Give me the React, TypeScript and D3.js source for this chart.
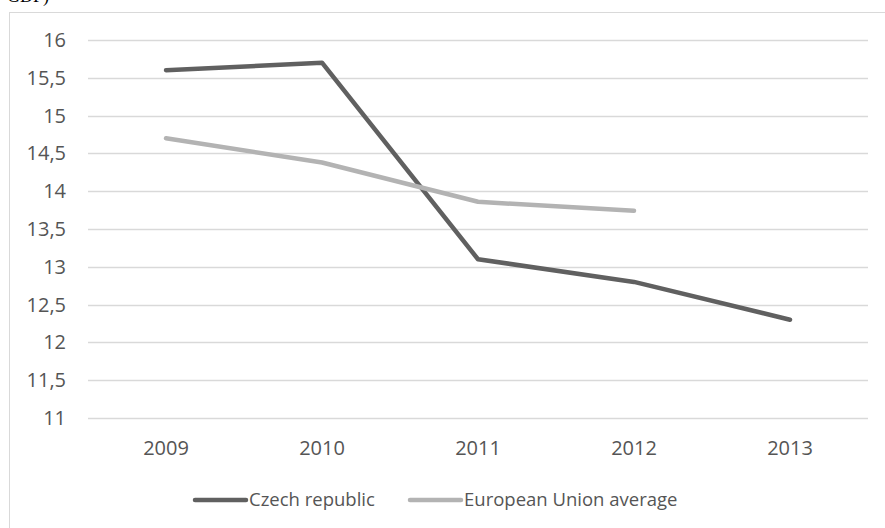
import React, { useRef, useEffect } from "react";
import * as d3 from "d3";

const years = ["2009", "2010", "2011", "2012", "2013"];
const czech = [15.6, 15.7, 13.1, 12.8, 12.3];
const euAverage = [14.7, 14.38, 13.86, 13.74];
const yTicks = [11, 11.5, 12, 12.5, 13, 13.5, 14, 14.5, 15, 15.5, 16];

const seriesList = [
  { name: "Czech republic", values: czech, color: "#606060" },
  { name: "European Union average", values: euAverage, color: "#b3b3b3" }
];

const width = 885;
const height = 528;
const margin = { top: 40, right: 17, bottom: 110, left: 88 };
const font = "'Open Sans', sans-serif";

const App = () => {
  const svgRef = useRef<SVGSVGElement>(null);

  useEffect(() => {
    const svg = d3.select(svgRef.current);
    svg.selectAll("*").remove();

    const x = d3
      .scaleBand()
      .domain(years)
      .range([margin.left, width - margin.right]);

    const y = d3
      .scaleLinear()
      .domain([11, 16])
      .range([height - margin.bottom, margin.top]);

    // cut-off caption from the page above
    svg
      .append("text")
      .attr("x", 7)
      .attr("y", 1.5)
      .attr("font-family", "'Liberation Serif', serif")
      .attr("font-size", 18)
      .attr("fill", "#000")
      .text("GDP)");

    // chart frame
    svg
      .append("rect")
      .attr("x", 9.5)
      .attr("y", 12.5)
      .attr("width", width + 20)
      .attr("height", height + 20)
      .attr("fill", "#fff")
      .attr("stroke", "#d9d9d9");

    // grid
    svg
      .append("g")
      .selectAll("line")
      .data(yTicks)
      .enter()
      .append("line")
      .attr("x1", margin.left)
      .attr("x2", width - margin.right)
      .attr("y1", (d) => Math.round(y(d)) + 0.5)
      .attr("y2", (d) => Math.round(y(d)) + 0.5)
      .attr("stroke", "#d9d9d9")
      .attr("stroke-width", 1.3);

    // y labels
    svg
      .append("g")
      .selectAll("text")
      .data(yTicks)
      .enter()
      .append("text")
      .attr("x", 66)
      .attr("y", (d) => y(d))
      .attr("dy", "0.35em")
      .attr("text-anchor", "end")
      .attr("font-family", font)
      .attr("font-size", 20)
      .attr("fill", "#555")
      .text((d) => String(d).replace(".", ","));

    // x labels
    svg
      .append("g")
      .selectAll("text")
      .data(years)
      .enter()
      .append("text")
      .attr("x", (d) => x(d)! + x.bandwidth() / 2)
      .attr("y", 455)
      .attr("text-anchor", "middle")
      .attr("font-family", font)
      .attr("font-size", 20)
      .attr("fill", "#555")
      .text((d) => d);

    const line = d3
      .line<number>()
      .x((_, i) => x(years[i])! + x.bandwidth() / 2)
      .y((d) => y(d));

    for (const s of seriesList) {
      svg
        .append("path")
        .attr("d", line(s.values))
        .attr("fill", "none")
        .attr("stroke", s.color)
        .attr("stroke-width", 4.5)
        .attr("stroke-linecap", "round")
        .attr("stroke-linejoin", "round");
    }

    // legend
    const legendX = [195, 410];
    const legendY = 500;
    seriesList.forEach((s, i) => {
      const g = svg.append("g").attr("transform", `translate(${legendX[i]},${legendY})`);
      g.append("line")
        .attr("x1", 0)
        .attr("x2", 51)
        .attr("y1", 0)
        .attr("y2", 0)
        .attr("stroke", s.color)
        .attr("stroke-width", 4.5)
        .attr("stroke-linecap", "round");
      g.append("text")
        .attr("x", 54)
        .attr("y", 0)
        .attr("dy", "0.35em")
        .attr("font-family", font)
        .attr("font-size", 18.5)
        .attr("fill", "#555")
        .text(s.name);
    });
  }, []);

  return (
    <svg
      ref={svgRef}
      width={width}
      height={height}
      style={{ position: "absolute", left: 0, top: 0 }}
      xmlns="http://www.w3.org/2000/svg"
    />
  );
};

export default App;
